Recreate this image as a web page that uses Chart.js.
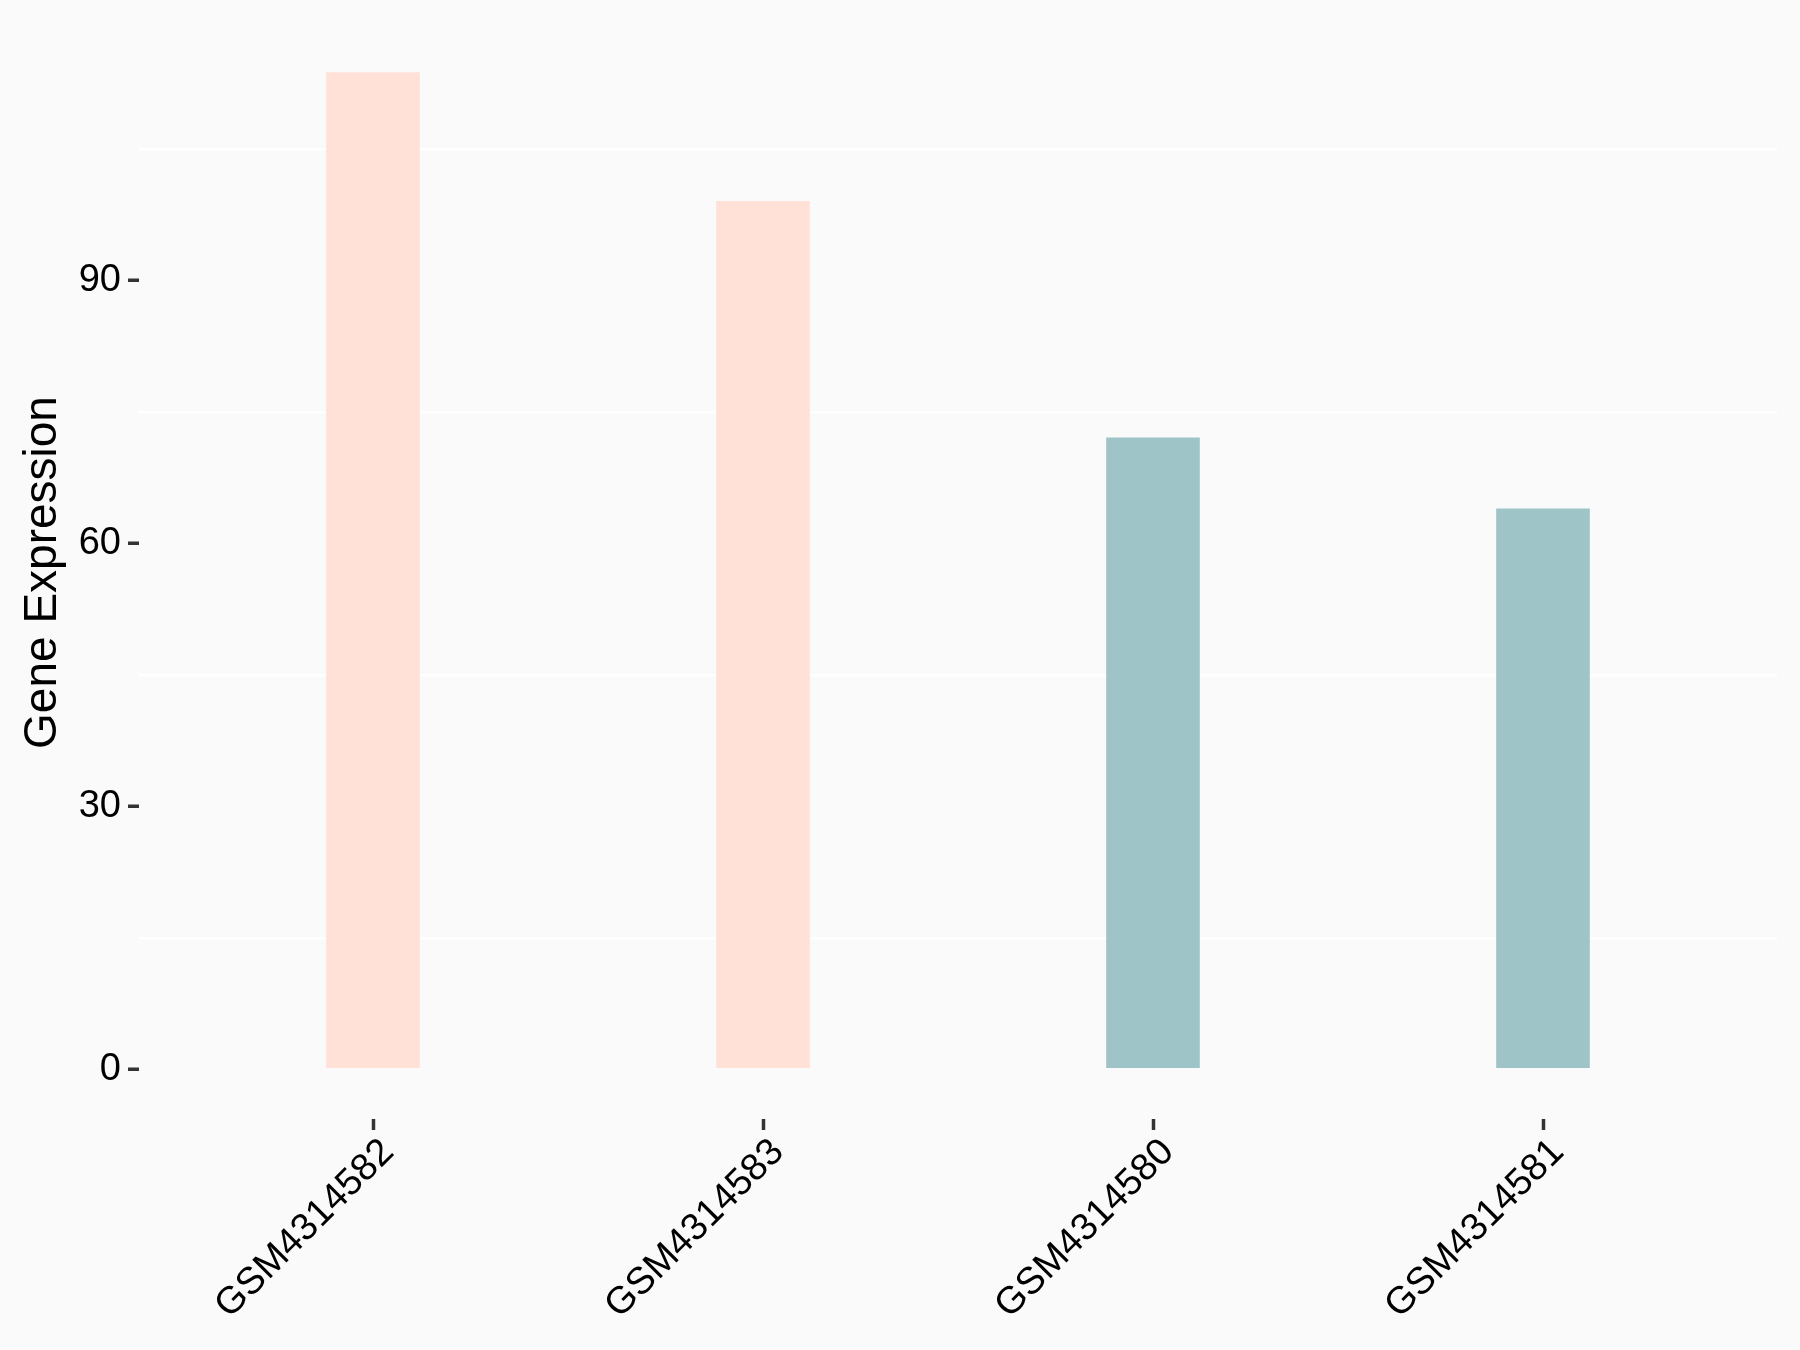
<!DOCTYPE html>
<html>
<head>
<meta charset="utf-8">
<script src="https://cdn.jsdelivr.net/npm/chart.js@4/dist/chart.umd.min.js"></script>
<style>
  body { margin: 0; background: #fafafa; }
  canvas { display: block; }
</style>
</head>
<body>
<canvas id="exprChart" width="1800" height="1350"></canvas>
<script>
// datos del grafico
const categories = ['GSM4314582', 'GSM4314583', 'GSM4314580', 'GSM4314581'];
const expression = [113.8, 99.1, 72.1, 64.0];
const barColors  = ['#FFE1D7', '#FFE1D7', '#9EC4C8', '#9EC4C8'];
const yTicks     = [0, 30, 60, 90];
const yMinorGrid = [15, 45, 75, 105];
const yRange     = [-5.67, 119.07];

const fontFam = "'Liberation Sans', Arial, sans-serif";

let ctx = document.getElementById('exprChart').getContext('2d');
let exprChart = new Chart(ctx, {
  type: 'bar',
  data: {
    datasets: [{
      data              : expression.map((v, i) => ({ x: i + 1, y: v })),
      backgroundColor   : barColors,
      borderWidth       : 0,
      categoryPercentage: 1,
      barPercentage     : 0.24
    }]
  },
  options: {
    responsive : false,
    animation  : false,
    devicePixelRatio: 1,
    layout     : { padding: { top: 23, right: 23, left: 0, bottom: 0 } },
    plugins    : { legend: { display: false }, tooltip: { enabled: false } },
    scales: {
      x: {
        type  : 'linear',
        min   : 0.4,
        max   : 4.6,
        offset: false,
        border: { display: false },
        grid  : { offset: false, drawOnChartArea: false, tickLength: 11, tickWidth: 3.5, tickColor: '#333' },
        afterBuildTicks: (scale) => { scale.ticks = categories.map((c, i) => ({ value: i + 1 })); },
        afterFit: (scale) => { scale.height = 231; },
        ticks : {
          autoSkip   : false,
          maxRotation: 45,
          minRotation: 45,
          padding    : 0,
          labelOffset: 15,
          color      : '#000',
          font       : { family: fontFam, size: 38 },
          callback   : (value) => categories[value - 1]
        }
      },
      y: {
        min   : yRange[0],
        max   : yRange[1],
        border: { display: false },
        grid  : {
          color    : (c) => yMinorGrid.includes(c.tick.value) ? '#ffffff' : 'rgba(0,0,0,0)',
          lineWidth: 2.5,
          tickLength: 11,
          tickWidth : 3.5,
          tickColor : (c) => yTicks.includes(c.tick.value) ? '#333' : 'rgba(0,0,0,0)'
        },
        afterBuildTicks: (scale) => {
          scale.ticks = yTicks.concat(yMinorGrid).sort((a, b) => a - b).map(v => ({ value: v }));
        },
        afterFit: (scale) => { scale.width = 139; },
        ticks : {
          padding : 7,
          color   : '#000',
          font    : { family: fontFam, size: 38, lineHeight: 1 },
          callback: (value) => yTicks.includes(value) ? String(value) : ''
        },
        title : {
          display: true,
          text   : 'Gene Expression',
          color  : '#000',
          font   : { family: fontFam, size: 46 },
          padding: { top: 16, bottom: 0 }
        }
      }
    }
  }
});
</script>
</body>
</html>
